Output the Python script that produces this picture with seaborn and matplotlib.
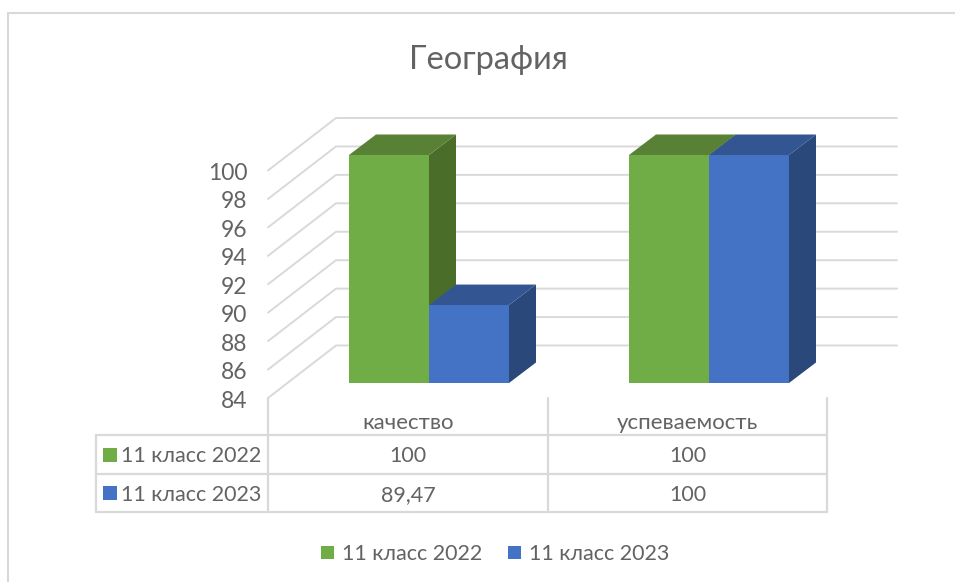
import matplotlib
matplotlib.use("Agg")
import matplotlib.pyplot as plt
from matplotlib.transforms import ScaledTranslation
import seaborn as sns
import pandas as pd

categories = ["качество", "успеваемость"]
series_names = ["11 класс 2022", "11 класс 2023"]
values_2022 = [100, 100]
values_2023 = [89.47, 100]
y_ticks = [84, 86, 88, 90, 92, 94, 96, 98, 100]
title_text = "География"

GREEN, BLUE = "#70AD47", "#4472C4"
TOPS = {0: "#588135", 1: "#335692"}
SIDES = {0: "#4A6E2A", 1: "#2A4879"}
LINE = "#D9D9D9"
TEXT = "#636363"
W, H = 955, 582
DEPTH_X, DEPTH_Y = 27, 20.5

sns.set_theme(style="white")
plt.rcParams["font.family"] = ["Lato", "DejaVu Sans"]
fig = plt.figure(figsize=(W / 100, H / 100), dpi=100, facecolor="white")


def axes_px(x0, x1, ytop, ybot, **kw):
    return fig.add_axes([x0 / W, 1 - ybot / H, (x1 - x0) / W, (ybot - ytop) / H], **kw)


# Pixel canvas for frame, table and depth faces
bg = axes_px(0, W, 0, H, zorder=0)
bg.set_xlim(0, W)
bg.set_ylim(H, 0)
bg.axis("off")

# Front wall axis: carries the value and category tick labels
wall = axes_px(268, 827, 170.5, 398, zorder=1)
wall.patch.set_alpha(0)
wall.set_xlim(-0.5, 1.5)
wall.set_ylim(84, 100)
wall.set_yticks(y_ticks)
wall.set_yticklabels([str(t) for t in y_ticks])
wall.set_xticks(range(len(categories)))
wall.set_xticklabels(categories)
wall.tick_params(axis="y", length=0, pad=15, labelsize=16.5, labelcolor=TEXT)
wall.tick_params(axis="x", length=0, pad=11, labelsize=16, labelcolor=TEXT)
shift = ScaledTranslation(0, -1 / 100, fig.dpi_scale_trans)
for lab in wall.get_yticklabels():
    lab.set_transform(lab.get_transform() + shift)
sns.despine(ax=wall, left=True, bottom=True)

# Bars in the front plane of the columns
ax = axes_px(289, 849, 155, 383, zorder=2)
ax.patch.set_alpha(0)
df = pd.DataFrame({
    "cat": categories * 2,
    "val": values_2022 + values_2023,
    "series": [series_names[0]] * 2 + [series_names[1]] * 2,
})
sns.barplot(data=df, x="cat", y="val", hue="series", order=categories,
            hue_order=series_names, palette=[GREEN, BLUE], width=160 / 280,
            gap=0, saturation=1, ax=ax, linewidth=0)
ax.set_xlim(-0.5, 1.5)
ax.set_ylim(84, 100)
ax.set_xticks([])
ax.set_yticks([])
ax.set_xlabel("")
ax.set_ylabel("")
for s in ax.spines.values():
    s.set_visible(False)

to_bg = ax.transData + bg.transData.inverted()
wall_bg = wall.transData + bg.transData.inverted()

# Chart frame
bg.plot([8, 8, W], [H, 13, 13], color=LINE, lw=1.5, solid_joinstyle="miter", clip_on=False)

# Back wall and side wall gridlines
for t in y_ticks:
    yf = wall_bg.transform((0, t))[1]
    yb = yf - 52.5
    bg.plot([268, 336, 897], [yf, yb, yb], color=LINE, lw=1.4, zorder=1,
            solid_joinstyle="miter")

# Depth faces from the drawn bars
n = len(categories)
for i, p in enumerate(ax.patches[:2 * n]):
    s_idx = i // n
    x0, w, v = p.get_x(), p.get_width(), p.get_height()
    (xl, yt) = to_bg.transform((x0, v))
    (xr, yb) = to_bg.transform((x0 + w, 84))
    bg.fill([xr, xr + DEPTH_X, xr + DEPTH_X, xr],
            [yt, yt - DEPTH_Y, yb - DEPTH_Y, yb], color=SIDES[s_idx], lw=0, zorder=2 + s_idx)
for i, p in enumerate(ax.patches[:2 * n]):
    s_idx = i // n
    x0, w, v = p.get_x(), p.get_width(), p.get_height()
    (xl, yt) = to_bg.transform((x0, v))
    (xr, _) = to_bg.transform((x0 + w, v))
    bg.fill([xl, xl + DEPTH_X, xr + DEPTH_X, xr],
            [yt, yt - DEPTH_Y, yt - DEPTH_Y, yt], color=TOPS[s_idx], lw=0, zorder=3 + s_idx)

# Data table
for x in (268, 548, 827):
    bg.plot([x, x], [398, 512], color=LINE, lw=1.6, zorder=1)
bg.plot([96, 96], [435, 512], color=LINE, lw=1.6, zorder=1)
for y in (435, 474, 512):
    bg.plot([96, 827], [y, y], color=LINE, lw=1.6, zorder=1)


def fmt(v):
    return f"{v:g}".replace(".", ",")


rows = [values_2022, values_2023]
row_y = [454.5, 493]
colors = [GREEN, BLUE]
for name, vals, y, c in zip(series_names, rows, row_y, colors):
    bg.fill([103, 117, 117, 103], [y - 7, y - 7, y + 7, y + 7], color=c, lw=0, zorder=2)
    bg.text(121, y, name, ha="left", va="center_baseline", fontsize=15.5, color=TEXT)
    for cx, v in zip((408, 687.5), vals):
        bg.text(cx, y, fmt(v), ha="center", va="center_baseline", fontsize=15.5, color=TEXT)

# Title
bg.text(488, 60, title_text, ha="center", va="center", fontsize=23.5, color=TEXT)

# Legend
handles, labels = ax.get_legend_handles_labels()
ax.legend(handles, labels, ncols=2, frameon=False, loc="center",
          bbox_to_anchor=(495 / W, 1 - 554 / H), bbox_transform=fig.transFigure,
          fontsize=15.5, labelcolor=TEXT, handlelength=0.6, handleheight=0.6,
          handletextpad=0.37, columnspacing=1.2, borderpad=0, borderaxespad=0)

fig.savefig("out.png", dpi=100, facecolor="white")
